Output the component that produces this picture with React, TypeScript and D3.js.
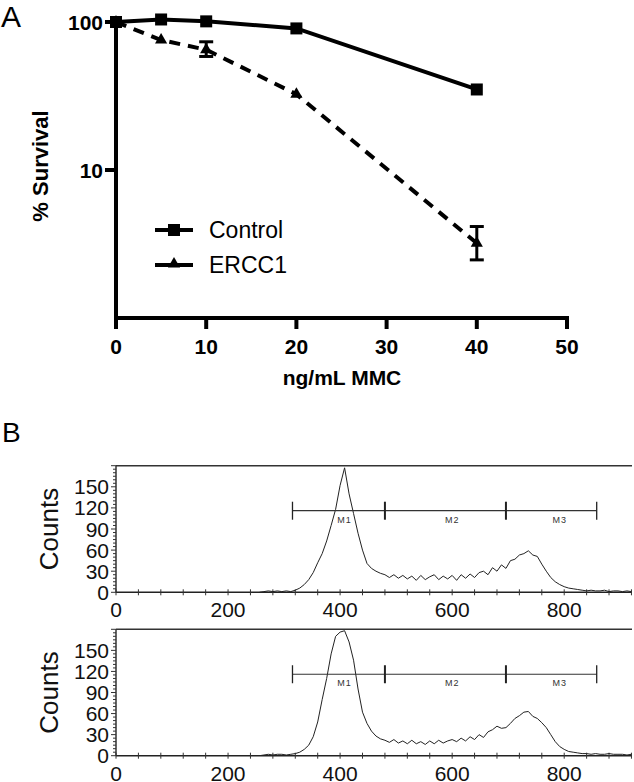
import React from "react";
import * as d3 from "d3";

// ---------- Panel A data ----------
const doses = [0, 5, 10, 20, 40];
const controlSurvival = [100, 104, 101, 90.5, 35];
const erccSurvival = [100, 75.5, 65, 32.5, 3.2];
const erccErrLow = [null, null, 58.5, null, 2.47];
const erccErrHigh = [null, null, 73.5, null, 4.15];
const xTicksA = [0, 10, 20, 30, 40, 50];
const yTicksA = [10, 100];
const legendLabels = ["Control", "ERCC1"];

// ---------- Panel B data ----------
const channelStart = 256;
const channelStep = 8;
const histTop = [
  0, 1, 2, 1, 2, 1, 2, 1, 3, 6, 11, 18, 28, 42, 55, 73, 95, 118, 152, 177,
  140, 112, 84, 60, 41, 34, 30, 27, 25, 21, 25, 20, 24, 19, 23, 17, 24, 18, 22, 25,
  18, 23, 19, 24, 17, 25, 20, 26, 21, 28, 30, 25, 35, 30, 39, 34, 45, 47, 53, 55,
  59, 53, 51, 40, 30, 21, 15, 11, 8, 6, 5, 4, 3, 2, 3, 2, 2, 3, 1, 2,
  2, 1, 2, 1,
];
const histBottom = [
  0, 1, 2, 1, 2, 2, 1, 2, 3, 5, 9, 15, 27, 48, 80, 110, 145, 170, 176, 178,
  162, 136, 95, 62, 46, 35, 28, 24, 22, 19, 23, 18, 21, 17, 22, 17, 20, 16, 21, 17,
  22, 18, 21, 23, 20, 25, 21, 27, 23, 30, 26, 34, 37, 42, 39, 40, 46, 53, 57, 62,
  63, 56, 53, 47, 40, 30, 20, 13, 9, 6, 5, 4, 3, 3, 2, 3, 2, 2, 3, 2,
  2, 2, 1, 2,
];
const xTicksB = [0, 200, 400, 600, 800];
const yTicksB = [0, 30, 60, 90, 120, 150];
const gateNames = ["M1", "M2", "M3"];
const gateBounds = [315, 480, 696, 858];
const gateLabelPos = [408, 600, 792];
const gateLevel = 116;

const FONT = "'Liberation Sans', Arial, Helvetica, sans-serif";

function PanelA() {
  const x = d3.scaleLinear().domain([0, 50]).range([116, 567]);
  const y = d3.scaleLog().domain([1, 100]).range([318, 22]);
  const line = d3
    .line<number>()
    .x((_, i) => x(doses[i]))
    .y((d) => y(d));
  const tri = d3.symbol().type(d3.symbolTriangle).size(64)();
  return (
    <g fontFamily={FONT}>
      <text x={1} y={27} fontSize={30}>A</text>
      {/* axes */}
      <line x1={x(0)} x2={x(0)} y1={y(100) - 2} y2={y(1) + 2} stroke="#000" strokeWidth={4} />
      <line x1={x(0) - 2} x2={x(50) + 2} y1={y(1)} y2={y(1)} stroke="#000" strokeWidth={4} />
      {yTicksA.map((t) => (
        <g key={t}>
          <line x1={x(0) - 11} x2={x(0)} y1={y(t)} y2={y(t)} stroke="#000" strokeWidth={4} />
          <text x={x(0) - 13} y={y(t)} dy="0.36em" textAnchor="end" fontSize={21} fontWeight="bold">
            {t}
          </text>
        </g>
      ))}
      {xTicksA.map((t) => (
        <g key={t}>
          <line x1={x(t)} x2={x(t)} y1={y(1)} y2={y(1) + 11} stroke="#000" strokeWidth={4} />
          <text x={x(t)} y={354} textAnchor="middle" fontSize={21} fontWeight="bold">
            {t}
          </text>
        </g>
      ))}
      <text x={342} y={385} textAnchor="middle" fontSize={21} fontWeight="bold">
        ng/mL MMC
      </text>
      <text
        transform="translate(48,166) rotate(-90)"
        textAnchor="middle"
        fontSize={22}
        fontWeight="bold"
      >
        % Survival
      </text>
      {/* series */}
      <path d={line(controlSurvival) || ""} fill="none" stroke="#000" strokeWidth={4} />
      <path
        d={line(erccSurvival) || ""}
        fill="none"
        stroke="#000"
        strokeWidth={4}
        strokeDasharray="11,8"
      />
      {erccSurvival.map((v, i) =>
        erccErrLow[i] != null ? (
          <g key={"e" + i} stroke="#000" strokeWidth={3}>
            <line x1={x(doses[i])} x2={x(doses[i])} y1={y(erccErrLow[i] as number)} y2={y(erccErrHigh[i] as number)} />
            <line x1={x(doses[i]) - 7} x2={x(doses[i]) + 7} y1={y(erccErrLow[i] as number)} y2={y(erccErrLow[i] as number)} />
            <line x1={x(doses[i]) - 7} x2={x(doses[i]) + 7} y1={y(erccErrHigh[i] as number)} y2={y(erccErrHigh[i] as number)} />
          </g>
        ) : null
      )}
      {controlSurvival.map((v, i) => (
        <rect key={"c" + i} x={x(doses[i]) - 6} y={y(v) - 6} width={12} height={12} fill="#000" />
      ))}
      {erccSurvival.map((v, i) => (
        <path key={"t" + i} d={tri || ""} transform={`translate(${x(doses[i])},${y(v)})`} fill="#000" />
      ))}
      {/* legend */}
      {legendLabels.map((l, i) => (
        <g key={l} transform={`translate(0,${230 + i * 35})`}>
          <line x1={155} x2={193} y1={0} y2={0} stroke="#000" strokeWidth={4} />
          {i === 0 ? (
            <rect x={168} y={-6} width={12} height={12} fill="#000" />
          ) : (
            <path d={tri || ""} transform="translate(174,-1)" fill="#000" />
          )}
          <text x={209} y={0} dy="0.36em" fontSize={23}>
            {l}
          </text>
        </g>
      ))}
    </g>
  );
}

function Histogram({ values, top, bottom }: { values: number[]; top: number; bottom: number }) {
  const x = d3.scaleLinear().domain([0, 921]).range([116, 632]);
  const y = d3.scaleLinear().domain([0, 180]).range([bottom, top]);
  const line = d3
    .line<number>()
    .x((_, i) => x(channelStart + i * channelStep))
    .y((d) => y(Math.min(d, 179)));
  const minorY = d3.range(0, 181, 5);
  const minorX = d3.range(0, 921, 40);
  const clipId = "clip" + Math.round(top);
  return (
    <g fontFamily={FONT}>
      <defs>
        <clipPath id={clipId}>
          <rect x={116} y={top} width={520} height={bottom - top} />
        </clipPath>
      </defs>
      <line x1={116} x2={632} y1={top} y2={top} stroke="#333" strokeWidth={1.5} />
      <line x1={116} x2={116} y1={top} y2={bottom} stroke="#333" strokeWidth={1.5} />
      <line x1={116} x2={632} y1={bottom} y2={bottom} stroke="#222" strokeWidth={1.5} />
      {minorY.map((t) => (
        <line key={"my" + t} x1={t % 30 === 0 ? 111 : 113} x2={116} y1={y(t)} y2={y(t)} stroke="#333" strokeWidth={1} />
      ))}
      {minorX.map((t) => (
        <line key={"mx" + t} x1={x(t)} x2={x(t)} y1={bottom - 3} y2={bottom + 3} stroke="#333" strokeWidth={1} />
      ))}
      {yTicksB.map((t) => (
        <text key={"ty" + t} x={109} y={y(t)} dy="0.36em" textAnchor="end" fontSize={21} fill="#111">
          {t}
        </text>
      ))}
      {xTicksB.map((t) => (
        <text key={"tx" + t} x={x(t)} y={bottom + 25} textAnchor="middle" fontSize={21} fill="#111">
          {t}
        </text>
      ))}
      <text
        transform={`translate(${58},${(top + bottom) / 2}) rotate(-90)`}
        textAnchor="middle"
        fontSize={26}
        fill="#111"
      >
        Counts
      </text>
      <path d={line(values) || ""} fill="none" stroke="#222" strokeWidth={1} clipPath={`url(#${clipId})`} />
      {/* gates */}
      <line x1={x(gateBounds[0])} x2={x(gateBounds[3])} y1={y(gateLevel)} y2={y(gateLevel)} stroke="#333" strokeWidth={1.2} />
      {gateBounds.map((g, i) => (
        <line
          key={"g" + i}
          x1={x(g)}
          x2={x(g)}
          y1={y(gateLevel) - 9}
          y2={y(gateLevel) + 9}
          stroke="#222"
          strokeWidth={i === 1 || i === 2 ? 2 : 1.3}
        />
      ))}
      {gateNames.map((n, i) => (
        <text key={n} x={x(gateLabelPos[i])} y={y(gateLevel) + 12} textAnchor="middle" fontSize={9} fill="#333" letterSpacing={1}>
          {n}
        </text>
      ))}
    </g>
  );
}

export default function App() {
  return (
    <svg
      width={634}
      height={782}
      style={{ position: "absolute", left: 0, top: 0, background: "#fff" }}
    >
      <rect width={634} height={782} fill="#fff" />
      <PanelA />
      <text x={2} y={442} fontSize={28} fontFamily={FONT}>B</text>
      <Histogram values={histTop} top={465.7} bottom={592.3} />
      <Histogram values={histBottom} top={629.3} bottom={755.7} />
    </svg>
  );
}
